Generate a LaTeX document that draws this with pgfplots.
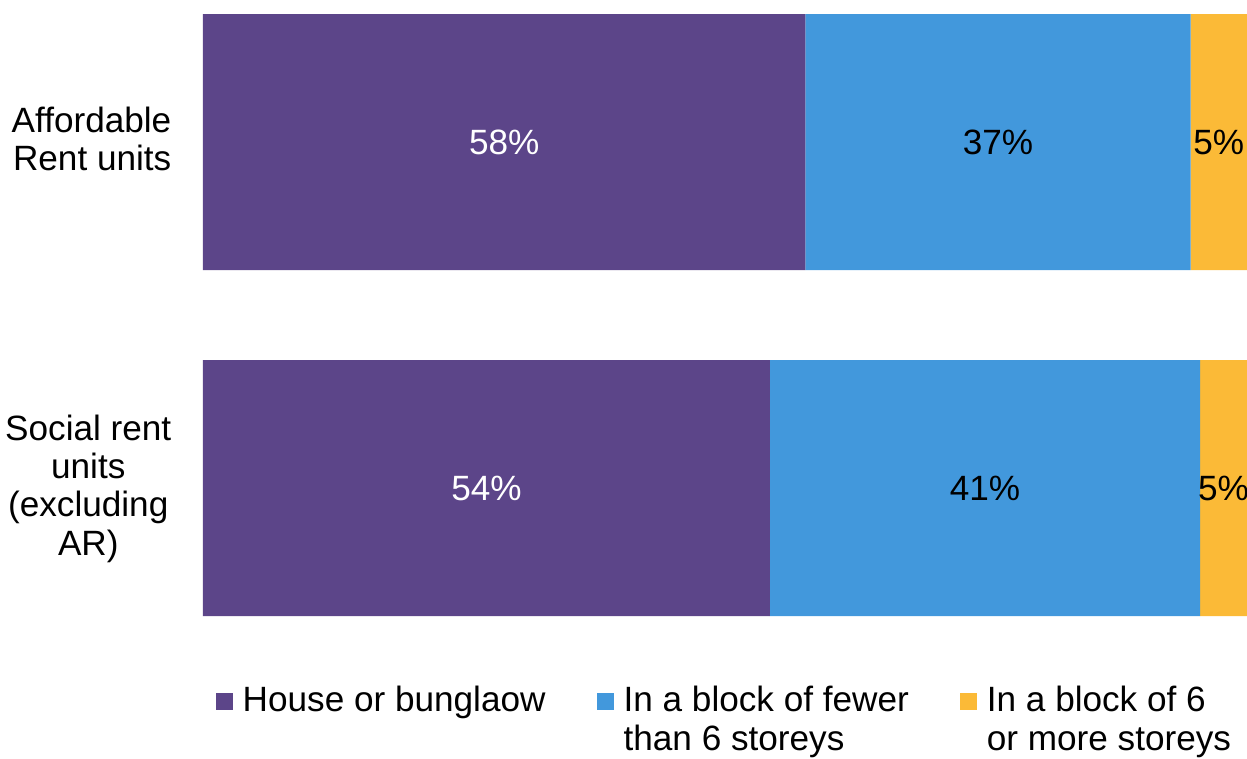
\documentclass[border=0pt]{standalone}
\usepackage{pgfplots}
\pgfplotsset{compat=1.18}
\usepackage{fontspec}
\setmainfont{Liberation Sans}
\definecolor{cPurple}{HTML}{5C4589}
\definecolor{cBlue}{HTML}{4298DC}
\definecolor{cYellow}{HTML}{FBBA37}
\begin{document}
\begin{tikzpicture}
\begin{axis}[
  at={(0,0)}, anchor=south west,
  scale only axis, width=104.4mm, height=60.2mm,
  xbar stacked, bar width=25.6mm,
  xmin=0, xmax=100, ymin=-0.37, ymax=1.37,
  axis line style={draw=none}, tick style={draw=none},
  major tick length=0pt,
  xtick=\empty, ytick={0,1},
  yticklabels={{\begin{tabular}{@{}c@{}}Social rent\\units\\(excluding\\AR)\end{tabular}},
               {\begin{tabular}{@{}r@{}}Affordable\\Rent units\end{tabular}}},
  yticklabel style={font=\fontsize{10}{10.9}\selectfont, inner xsep=0pt, xshift=-3.1mm, yshift=-0.2mm},
  point meta=explicit symbolic,
  nodes near coords,
  every node near coord/.append style={font=\fontsize{10}{12}\selectfont, anchor=center, text=black},
  sq/.style={legend image code/.code={\fill[##1] (0mm,0.2mm) rectangle (1.7mm,1.9mm);}},
  legend columns=3,
  legend style={at={(0.0115,-0.1014)}, anchor=north west, draw=none, fill=none, inner sep=0pt,
    font=\fontsize{10}{11}\selectfont,
    cells={anchor=base west, inner xsep=0pt},
    /tikz/every odd column/.append style={column sep=0.3mm},
    /tikz/every even column/.append style={column sep=4.4mm}},
]
\addplot[fill=cPurple, draw=none, sq, every node near coord/.append style={text=white}]
  coordinates {(57.7,1) [58\%] (54.3,0) [54\%]};
\addlegendentry{House or bunglaow}
\addplot[fill=cBlue, draw=none, sq]
  coordinates {(36.9,1) [37\%] (41.2,0) [41\%]};
\addlegendentry{\begin{tabular}[t]{@{}l@{}}In a block of fewer\\than 6 storeys\end{tabular}}
\addplot[fill=cYellow, draw=none, sq]
  coordinates {(5.4,1) [5\%] (4.5,0) [5\%]};
\addlegendentry{\begin{tabular}[t]{@{}l@{}}In a block of 6\\or more storeys\end{tabular}}
\end{axis}
\pgfresetboundingbox
\path[use as bounding box] (-20.3mm,-14.2mm) rectangle (104.4mm,61.6mm);
\end{tikzpicture}
\end{document}
